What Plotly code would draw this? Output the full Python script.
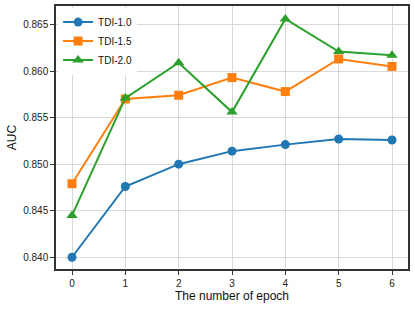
import plotly.graph_objects as go

epochs = [0, 1, 2, 3, 4, 5, 6]
tdi_10 = [0.8400, 0.8476, 0.8500, 0.8514, 0.8521, 0.8527, 0.8526]
tdi_15 = [0.8479, 0.8570, 0.8574, 0.8593, 0.8578, 0.8613, 0.8605]
tdi_20 = [0.8445, 0.8571, 0.8609, 0.8556, 0.8656, 0.8621, 0.8617]
series_names = ["TDI-1.0", "TDI-1.5", "TDI-2.0"]
y_ticks = [0.840, 0.845, 0.850, 0.855, 0.860, 0.865]

colors = ["#1f77b4", "#ff7f0e", "#2ca02c"]
symbols = ["circle", "square", "triangle-up"]
sizes = [9, 9, 10]

fig = go.Figure()
for name, vals, c, s, sz in zip(series_names, [tdi_10, tdi_15, tdi_20], colors, symbols, sizes):
    fig.add_trace(go.Scatter(
        x=epochs, y=vals, name=name, mode="lines+markers",
        line=dict(color=c, width=2),
        marker=dict(color=c, symbol=s, size=sz, line=dict(width=0)),
    ))

axis_common = dict(
    showline=True, linecolor="#333333", linewidth=1.5, mirror=True,
    showgrid=True, gridcolor="#d9d9d9", gridwidth=1,
    ticks="outside", ticklen=4, tickwidth=1, tickcolor="#333333",
    tickfont=dict(size=10, color="#222222", family="Liberation Sans"),
    zeroline=False, automargin=False,
)

fig.update_layout(
    width=415, height=310,
    margin=dict(l=56, r=7, t=6, b=41),
    paper_bgcolor="white", plot_bgcolor="white",
    font=dict(family="Liberation Sans", color="#111111"),
    xaxis=dict(range=[-0.3, 6.3], tickvals=epochs,
               title=dict(text="The number of epoch", font=dict(size=12), standoff=2),
               **axis_common),
    yaxis=dict(range=[0.83874, 0.86699], tickvals=y_ticks, tickformat=".3f",
               title=dict(text="AUC", font=dict(size=12), standoff=4),
               **axis_common),
    legend=dict(x=0.006, y=0.994, xanchor="left", yanchor="top",
                bgcolor="rgba(255,255,255,0.9)", borderwidth=0,
                font=dict(size=10, color="#111111"), tracegroupgap=0,
                itemwidth=30),
    showlegend=True,
)

fig.write_html("out.html", config={"displayModeBar": False},
               post_script="document.body.style.margin='0';")
